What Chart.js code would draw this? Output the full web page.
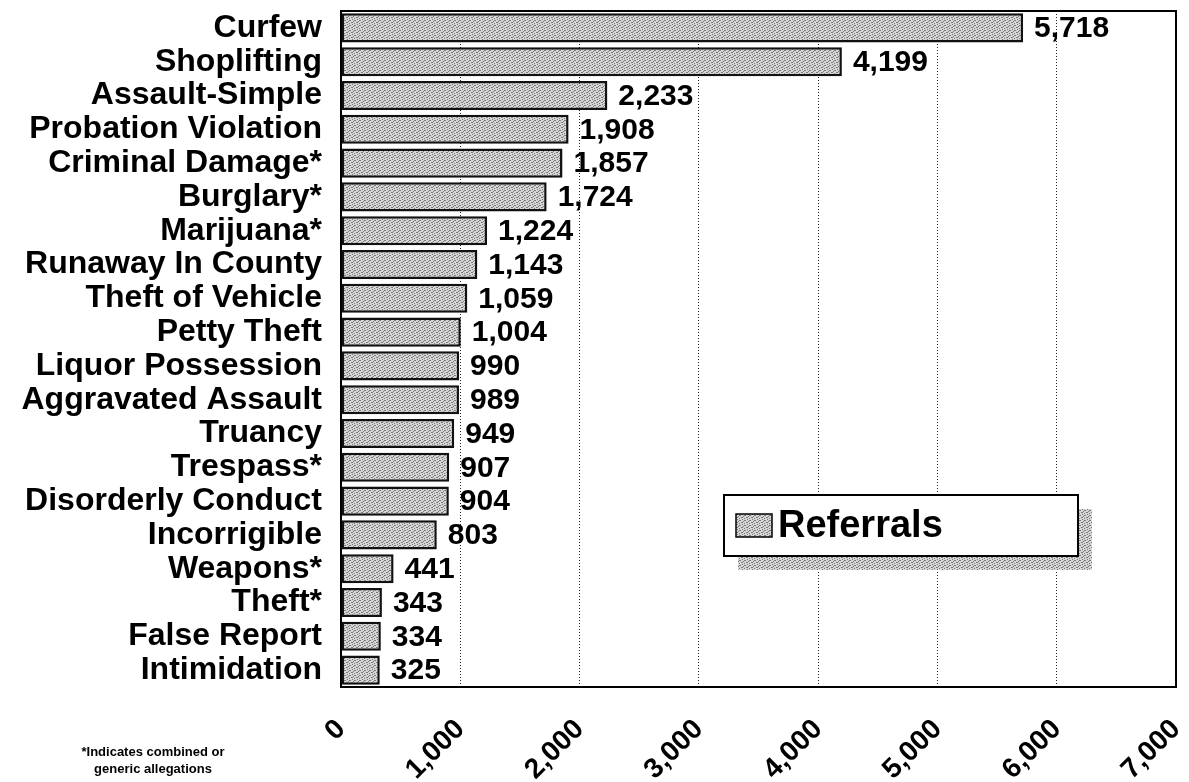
<!DOCTYPE html>
<html>
<head>
<meta charset="utf-8">
<script src="https://cdn.jsdelivr.net/npm/chart.js@4/dist/chart.umd.min.js"></script>
<style>
  html, body { margin: 0; padding: 0; background: #fff; }
  #wrap { width: 1189px; height: 782px; }
</style>
</head>
<body>
<div id="wrap"><canvas id="chart" width="1189" height="782"></canvas></div>
<script>
const categories = [
  "Curfew", "Shoplifting", "Assault-Simple", "Probation Violation",
  "Criminal Damage*", "Burglary*", "Marijuana*", "Runaway In County",
  "Theft of Vehicle", "Petty Theft", "Liquor Possession", "Aggravated Assault",
  "Truancy", "Trespass*", "Disorderly Conduct", "Incorrigible",
  "Weapons*", "Theft*", "False Report", "Intimidation"
];
const referrals = [
  5718, 4199, 2233, 1908, 1857, 1724, 1224, 1143, 1059, 1004,
  990, 989, 949, 907, 904, 803, 441, 343, 334, 325
];
const seriesName = "Referrals";
const footnote = ["*Indicates combined or", "generic allegations"];

const FONT = "'Liberation Sans', Arial, sans-serif";

// stippled grey fill like the scanned original
function makePattern() {
  const c = document.createElement("canvas");
  c.width = 5;
  c.height = 5;
  const g = c.getContext("2d");
  g.fillStyle = "#d6d6d6";
  g.fillRect(0, 0, 5, 5);
  g.fillStyle = "#7a7a7a";
  [[0, 0], [3, 1], [1, 2], [4, 3], [2, 4], [4, 0], [2, 2]].forEach(([x, y]) => g.fillRect(x, y, 1, 1));
  return g.createPattern(c, "repeat");
}
const stipple = makePattern();

function noPadding(s) {
  s.paddingLeft = 0;
  s.paddingRight = 0;
  s.paddingTop = 0;
  s.paddingBottom = 0;
}

const frame = {
  id: "frame",
  beforeDatasetsDraw(chart) {
    const { ctx, chartArea: a } = chart;
    ctx.save();
    ctx.strokeStyle = "#000";
    ctx.lineWidth = 2;
    ctx.strokeRect(a.left, a.top, a.right - a.left, a.bottom - a.top);
    ctx.restore();
  }
};

const valueLabels = {
  id: "valueLabels",
  afterDatasetsDraw(chart) {
    const { ctx } = chart;
    const meta = chart.getDatasetMeta(0);
    ctx.save();
    ctx.font = "bold 30px " + FONT;
    ctx.fillStyle = "#000";
    ctx.textBaseline = "middle";
    ctx.textAlign = "left";
    meta.data.forEach((bar, i) => {
      ctx.fillText(referrals[i].toLocaleString("en-US"), bar.x + 11, bar.y + 1);
    });
    ctx.restore();
  }
};

const extras = {
  id: "extras",
  afterDraw(chart) {
    const { ctx } = chart;
    ctx.save();
    // legend box with shadow
    const bx = 724, by = 495, bw = 354, bh = 61;
    ctx.fillStyle = stipple;
    ctx.fillRect(bx + 14, by + 14, bw, bh);
    ctx.fillStyle = "#fff";
    ctx.fillRect(bx, by, bw, bh);
    ctx.strokeStyle = "#000";
    ctx.lineWidth = 2;
    ctx.strokeRect(bx, by, bw, bh);
    ctx.fillStyle = stipple;
    ctx.fillRect(736, 514, 36, 23);
    ctx.lineWidth = 1.5;
    ctx.strokeRect(736, 514, 36, 23);
    ctx.fillStyle = "#000";
    ctx.font = "bold 38px " + FONT;
    ctx.textBaseline = "middle";
    ctx.fillText(seriesName, 778, 527);

    // footnote
    ctx.font = "bold 13px " + FONT;
    ctx.textAlign = "center";
    ctx.fillText(footnote[0], 153, 752);
    ctx.fillText(footnote[1], 153, 769);
    ctx.restore();
  }
};

new Chart(document.getElementById("chart"), {
  type: "bar",
  data: {
    labels: categories,
    datasets: [{
      label: seriesName,
      data: referrals,
      backgroundColor: stipple,
      borderColor: "#111",
      borderWidth: 2.5,
      borderSkipped: false,
      barPercentage: 0.86,
      categoryPercentage: 1
    }]
  },
  options: {
    indexAxis: "y",
    responsive: false,
    animation: false,
    layout: { padding: { top: 11, right: 13, left: 0, bottom: 0 } },
    scales: {
      x: {
        min: 0,
        max: 7000,
        afterFit: (s) => { s.height = 95; noPadding(s); },
        grid: {
          color: "#222",
          lineWidth: 1,
          drawTicks: false
        },
        border: { display: false, dash: [1, 2] },
        ticks: {
          stepSize: 1000,
          autoSkip: false,
          minRotation: 45,
          maxRotation: 45,
          padding: 26,
          color: "#000",
          font: { family: FONT, size: 28, weight: "bold" },
          callback: (v) => Number(v).toLocaleString("en-US")
        }
      },
      y: {
        afterFit: (s) => { s.width = 341; noPadding(s); },
        grid: { display: false, drawTicks: false },
        border: { display: false },
        ticks: {
          autoSkip: false,
          padding: 19,
          color: "#000",
          font: { family: FONT, size: 32, weight: "bold" }
        }
      }
    },
    plugins: {
      legend: { display: false },
      tooltip: { enabled: false }
    }
  },
  plugins: [frame, valueLabels, extras]
});
</script>
</body>
</html>
